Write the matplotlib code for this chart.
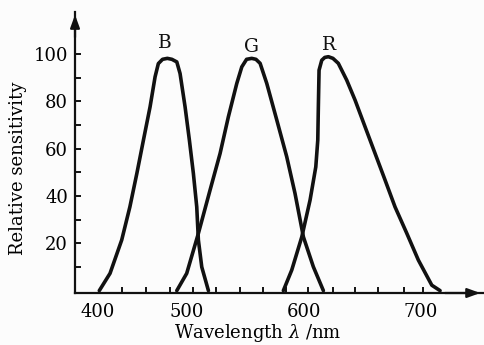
import matplotlib.pyplot as plt

# curves (wavelength in nm, relative sensitivity in %)
b_x = [424.8, 434, 444, 451, 457, 462.6, 468.3, 472.6, 475.4, 479, 483.1, 487, 491.2, 494, 498.3, 502, 505.4, 508.3, 509.7, 512.6, 518.3]
b_y = [0, 7.3, 21.4, 35.4, 49.6, 63.6, 77.7, 90.4, 96, 97.8, 98.2, 97.8, 96.7, 91.8, 77.7, 63.6, 49.6, 35.4, 21.4, 10, 0]

g_x = [491.2, 499.7, 509.7, 519.7, 528.3, 535.4, 542.6, 546.9, 551, 555.4, 559, 562.6, 568.3, 576.9, 585.4, 592.5, 599.7, 608.2, 616.8]
g_y = [0, 7.3, 24.2, 42.5, 58, 73.5, 87.6, 94.6, 97.8, 98.2, 97.8, 96.1, 87.6, 72.1, 56.6, 41.1, 22.7, 10.1, 0]

r_x = [582.5, 589.7, 598.3, 605.4, 610.3, 612, 612.5, 613.1, 615.4, 618, 621.1, 625, 629.6, 636.8, 644, 652.5, 661.1, 669.7, 678.2, 688.3, 698.2, 709.7, 716.8]
r_y = [0, 8.7, 22.7, 38.3, 52.3, 63.6, 77.7, 93.2, 97.4, 98.6, 98.9, 98.2, 96.1, 89, 80.5, 69.3, 58, 46.7, 35.4, 24.2, 12.9, 2.3, 0]

curve_names = ['B', 'G', 'R']
name_x = [481.3, 555, 622]
name_y = [104.5, 103, 104]

x_ticks = [423, 500, 600, 700]
x_labels = ['400', '500', '600', '700']
x_minor = [444, 465, 485, 505, 525, 545, 565, 585, 604, 625, 644, 664, 686, 702]
y_ticks = [20, 40, 60, 80, 100]
y_minor = [10, 30, 50, 70, 90]

plt.rcParams['font.family'] = 'DejaVu Serif'
plt.rcParams['mathtext.fontset'] = 'dejavuserif'

fig = plt.figure(figsize=(4.84, 3.45), dpi=100)
fig.patch.set_facecolor('#fcfcfc')
ax = fig.add_axes([0.155, 0.1507, 0.843, 0.8145])
ax.set_facecolor('#fcfcfc')

for xs, ys in [(b_x, b_y), (g_x, g_y), (r_x, r_y)]:
    ax.plot(xs, ys, color='#111111', lw=2.6, solid_capstyle='round', solid_joinstyle='round')

for name, tx, ty in zip(curve_names, name_x, name_y):
    ax.text(tx, ty, name, ha='center', va='center', fontsize=13.5, color='#111111')

ax.set_xlim(404, 753.6)
ax.set_ylim(-1, 117.8)

for s in ['top', 'right']:
    ax.spines[s].set_visible(False)
for s in ['left', 'bottom']:
    ax.spines[s].set_linewidth(1.6)
    ax.spines[s].set_color('#111111')

ax.set_xticks(x_ticks)
ax.set_xticklabels(x_labels)
ax.set_xticks(x_minor, minor=True)
ax.set_yticks(y_ticks)
ax.set_yticks(y_minor, minor=True)
ax.tick_params(axis='x', which='major', length=0, pad=7, labelsize=13)
ax.tick_params(axis='x', which='minor', direction='in', length=4, width=1.3)
ax.tick_params(axis='y', which='both', direction='in', length=4, width=1.3, pad=5, labelsize=13)

arrow = dict(arrowstyle='-|>,head_length=0.55,head_width=0.2', color='#111111', lw=1.6, mutation_scale=14)
ax.annotate('', xy=(0, 1.0), xytext=(0, 0.9), xycoords='axes fraction', arrowprops=arrow, annotation_clip=False)
ax.annotate('', xy=(1.0, 0), xytext=(0.9, 0), xycoords='axes fraction', arrowprops=arrow, annotation_clip=False)

ax.set_xlabel(r'Wavelength $\lambda$ /nm', fontsize=13)
ax.set_ylabel('Relative sensitivity', fontsize=13)
ax.xaxis.set_label_coords(0.449, -0.103)
ax.yaxis.set_label_coords(-0.117, 0.445)

plt.savefig('out.png', dpi=100, facecolor=fig.get_facecolor())
